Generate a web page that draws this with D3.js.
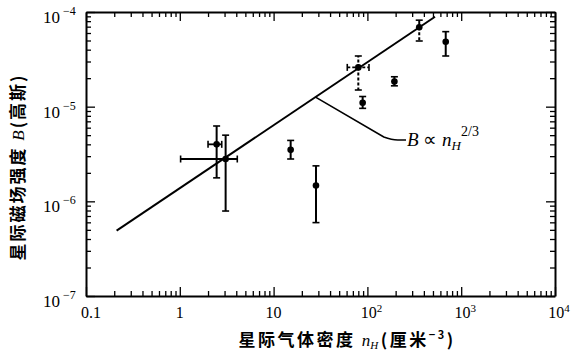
<!DOCTYPE html>
<meta charset="utf-8">
<style>
body { margin: 0; background: #fff; }
.axis path { stroke: #000; stroke-width: 2; }
.axis line { stroke: #000; stroke-width: 1.3; }
.tick-label { font-family: "Liberation Serif", serif; font-size: 16px; fill: #000; }
.title { font-family: "Noto Sans CJK SC", sans-serif; font-weight: 700; font-size: 17px; fill: #000; }
</style>
<svg width="571" height="350"></svg>
<script src="https://d3js.org/d3.v7.min.js"></script>
<script>

var density     = [2.47, 3.08, 15.2, 28.3, 80, 89, 194, 357, 684];
var field       = [4.0e-6, 2.8e-6, 3.5e-6, 1.47e-6, 2.6e-5, 1.1e-5, 1.84e-5, 6.9e-5, 4.85e-5];
var fieldLow    = [1.77e-6, 7.9e-7, 2.8e-6, 5.96e-7, 1.5e-5, 9.6e-6, 1.66e-5, 4.94e-5, 3.43e-5];
var fieldHigh   = [6.25e-6, 5.0e-6, 4.4e-6, 2.37e-6, 3.43e-5, 1.28e-5, 2.07e-5, 8.2e-5, 6.2e-5];
var densityLow  = [2.0, 1.02, null, null, 61, null, null, null, null];
var densityHigh = [2.8, 4.1, null, null, 104, null, null, null, null];
var dashLow     = [false, false, false, false, true, false, false, true, false];
var dashHigh    = [false, false, false, false, true, false, false, false, false];
var dashX       = [false, false, false, false, true, false, false, false, false];

// B ~ n^(2/3) line end points
var lawN = [0.212, 526];
var lawB = [4.9e-7, 8.9e-5];

// label leader: on the line, bend, end
var leadN = [28, 182, 258];
var leadB = [1.26e-5, 4.45e-6, 4.45e-6];

var xTickVals = [0.1, 1, 10, 100, 1000, 10000];
var xTickBase = ["0.1", "1", "10", "10", "10", "10"];
var xTickExp  = ["", "", "", "2", "3", "4"];
var yTickVals = [1e-4, 1e-5, 1e-6, 1e-7];
var yTickExp  = ["-4", "-5", "-6", "-7"];

var svg = d3.select("svg");
var plotL = 86, plotR = 555, plotT = 12, plotB = 296;

var x = d3.scaleLog().domain([0.1, 1e4]).range([plotL, plotR]);
var y = d3.scaleLog().domain([1e-7, 1e-4]).range([plotB, plotT]);

function minors(lo, hi) {
  var out = [];
  for (var e = lo; e < hi; e++)
    for (var m = 2; m <= 9; m++) out.push(m * Math.pow(10, e));
  return out;
}
var xMinor = minors(-1, 4), yMinor = minors(-7, -4);

function drawAxis(axisFn, scale, major, minor, transform) {
  var g = svg.append("g").attr("class", "axis").attr("transform", transform);
  g.call(axisFn(scale).tickValues(minor).tickSize(-5).tickSizeOuter(0).tickFormat(""));
  g.append("g").call(axisFn(scale).tickValues(major).tickSize(-9).tickSizeOuter(0).tickFormat(""))
    .select(".domain").remove();
}
drawAxis(d3.axisBottom, x, xTickVals, xMinor, "translate(0," + plotB + ")");
drawAxis(d3.axisTop, x, xTickVals, xMinor, "translate(0," + plotT + ")");
drawAxis(d3.axisLeft, y, yTickVals, yMinor, "translate(" + plotL + ",0)");
drawAxis(d3.axisRight, y, yTickVals, yMinor, "translate(" + plotR + ",0)");

// x tick labels
var xl = svg.append("g").selectAll("text")
  .data(xTickVals).enter().append("text")
    .attr("class", "tick-label")
    .attr("x", function(d, i) { return x(d) + (i == 0 ? 5 : (xTickExp[i] ? 4 : 0)); })
    .attr("y", 318)
    .attr("text-anchor", "middle");
xl.append("tspan").text(function(d, i) { return xTickBase[i]; });
xl.append("tspan").attr("dy", -6).style("font-size", "11px")
  .text(function(d, i) { return xTickExp[i]; });

// y tick labels
var yl = svg.append("g").selectAll("text")
  .data(yTickVals).enter().append("text")
    .attr("class", "tick-label")
    .attr("x", 43)
    .attr("y", function(d) { return y(d) + 11; });
yl.append("tspan").style("font-size", "17px").text("10");
yl.append("tspan").attr("dx", 3).attr("dy", -8).style("font-size", "12px")
  .text(function(d, i) { return yTickExp[i].replace("-", "\u2212"); });

// power law line
svg.append("line")
  .attr("x1", x(lawN[0])).attr("y1", y(lawB[0]))
  .attr("x2", x(lawN[1])).attr("y2", y(lawB[1]))
  .attr("stroke", "#000").attr("stroke-width", 2);

// leader to the label
svg.append("path")
  .attr("d", "M" + x(leadN[0]) + "," + y(leadB[0]) +
             "L" + (x(leadN[1]) - 8) + "," + (y(leadB[1]) - 3) +
             "Q" + x(leadN[1]) + "," + y(leadB[1]) + " " + (x(leadN[1]) + 6) + "," + y(leadB[1]) +
             "L" + x(leadN[2]) + "," + y(leadB[2]))
  .attr("fill", "none").attr("stroke", "#000").attr("stroke-width", 1.6);

var lab = svg.append("text")
  .attr("x", x(leadN[2]) + 1).attr("y", y(leadB[2]) + 6)
  .style("font-family", "Liberation Serif, serif").style("font-size", "19px");
lab.append("tspan").style("font-style", "italic").text("B");
lab.append("tspan").text(" \u221D ");
lab.append("tspan").style("font-style", "italic").text("n");
lab.append("tspan").style("font-style", "italic").style("font-size", "13px").attr("dy", 4).text("H");
lab.append("tspan").style("font-size", "14px").attr("dy", -14).text("2/3");

// error bars
var pts = svg.append("g").selectAll("g")
  .data(density).enter().append("g");

pts.append("line")
  .attr("x1", function(d) { return x(d); }).attr("x2", function(d) { return x(d); })
  .attr("y1", function(d, i) { return y(field[i]); })
  .attr("y2", function(d, i) { return y(fieldHigh[i]); })
  .attr("stroke", "#000").attr("stroke-width", 2)
  .attr("stroke-dasharray", function(d, i) { return dashHigh[i] ? "3,2" : null; });
pts.append("line")
  .attr("x1", function(d) { return x(d); }).attr("x2", function(d) { return x(d); })
  .attr("y1", function(d, i) { return y(field[i]); })
  .attr("y2", function(d, i) { return y(fieldLow[i]); })
  .attr("stroke", "#000").attr("stroke-width", 2)
  .attr("stroke-dasharray", function(d, i) { return dashLow[i] ? "3,2" : null; });

// caps
[fieldLow, fieldHigh].forEach(function(arr) {
  pts.append("line")
    .attr("x1", function(d) { return x(d) - 3.5; }).attr("x2", function(d) { return x(d) + 3.5; })
    .attr("y1", function(d, i) { return y(arr[i]); })
    .attr("y2", function(d, i) { return y(arr[i]); })
    .attr("stroke", "#000").attr("stroke-width", 1.6);
});

var hx = pts.filter(function(d, i) { return densityLow[i] != null; });
hx.append("line")
  .attr("x1", function(d) { var i = density.indexOf(d); return x(densityLow[i]); })
  .attr("x2", function(d) { var i = density.indexOf(d); return x(densityHigh[i]); })
  .attr("y1", function(d) { return y(field[density.indexOf(d)]); })
  .attr("y2", function(d) { return y(field[density.indexOf(d)]); })
  .attr("stroke", "#000").attr("stroke-width", 1.8)
  .attr("stroke-dasharray", function(d) { return dashX[density.indexOf(d)] ? "3,2" : null; });
[densityLow, densityHigh].forEach(function(arr) {
  hx.append("line")
    .attr("x1", function(d) { return x(arr[density.indexOf(d)]); })
    .attr("x2", function(d) { return x(arr[density.indexOf(d)]); })
    .attr("y1", function(d) { return y(field[density.indexOf(d)]) - 3.5; })
    .attr("y2", function(d) { return y(field[density.indexOf(d)]) + 3.5; })
    .attr("stroke", "#000").attr("stroke-width", 1.6);
});

pts.append("circle")
  .attr("cx", function(d) { return x(d); })
  .attr("cy", function(d, i) { return y(field[i]); })
  .attr("r", 3.3).attr("fill", "#000");

// axis titles
var yt = svg.append("text").attr("class", "title")
  .attr("transform", "translate(24,167) rotate(-90)")
  .attr("text-anchor", "middle").style("letter-spacing", "2px");
yt.append("tspan").text("星际磁场强度 ");
yt.append("tspan").style("font-family", "Liberation Serif, serif").style("font-style", "italic")
  .style("font-weight", "400").text("B");
yt.append("tspan").text("(高斯)");

var xt = svg.append("text").attr("class", "title")
  .attr("x", 347).attr("y", 346)
  .attr("text-anchor", "middle").style("letter-spacing", "2.5px");
xt.append("tspan").text("星际气体密度 ");
xt.append("tspan").style("font-family", "Liberation Serif, serif").style("font-style", "italic")
  .style("font-weight", "400").style("letter-spacing", "0px").text("n");
xt.append("tspan").style("font-family", "Liberation Serif, serif").style("font-style", "italic")
  .style("font-weight", "400").style("font-size", "11px").attr("dy", 3).text("H");
xt.append("tspan").attr("dy", -3).text("(厘米");
xt.append("tspan").style("font-size", "11px").attr("dy", -7).text("\u22123");
xt.append("tspan").attr("dy", 7).text(")");
</script>
